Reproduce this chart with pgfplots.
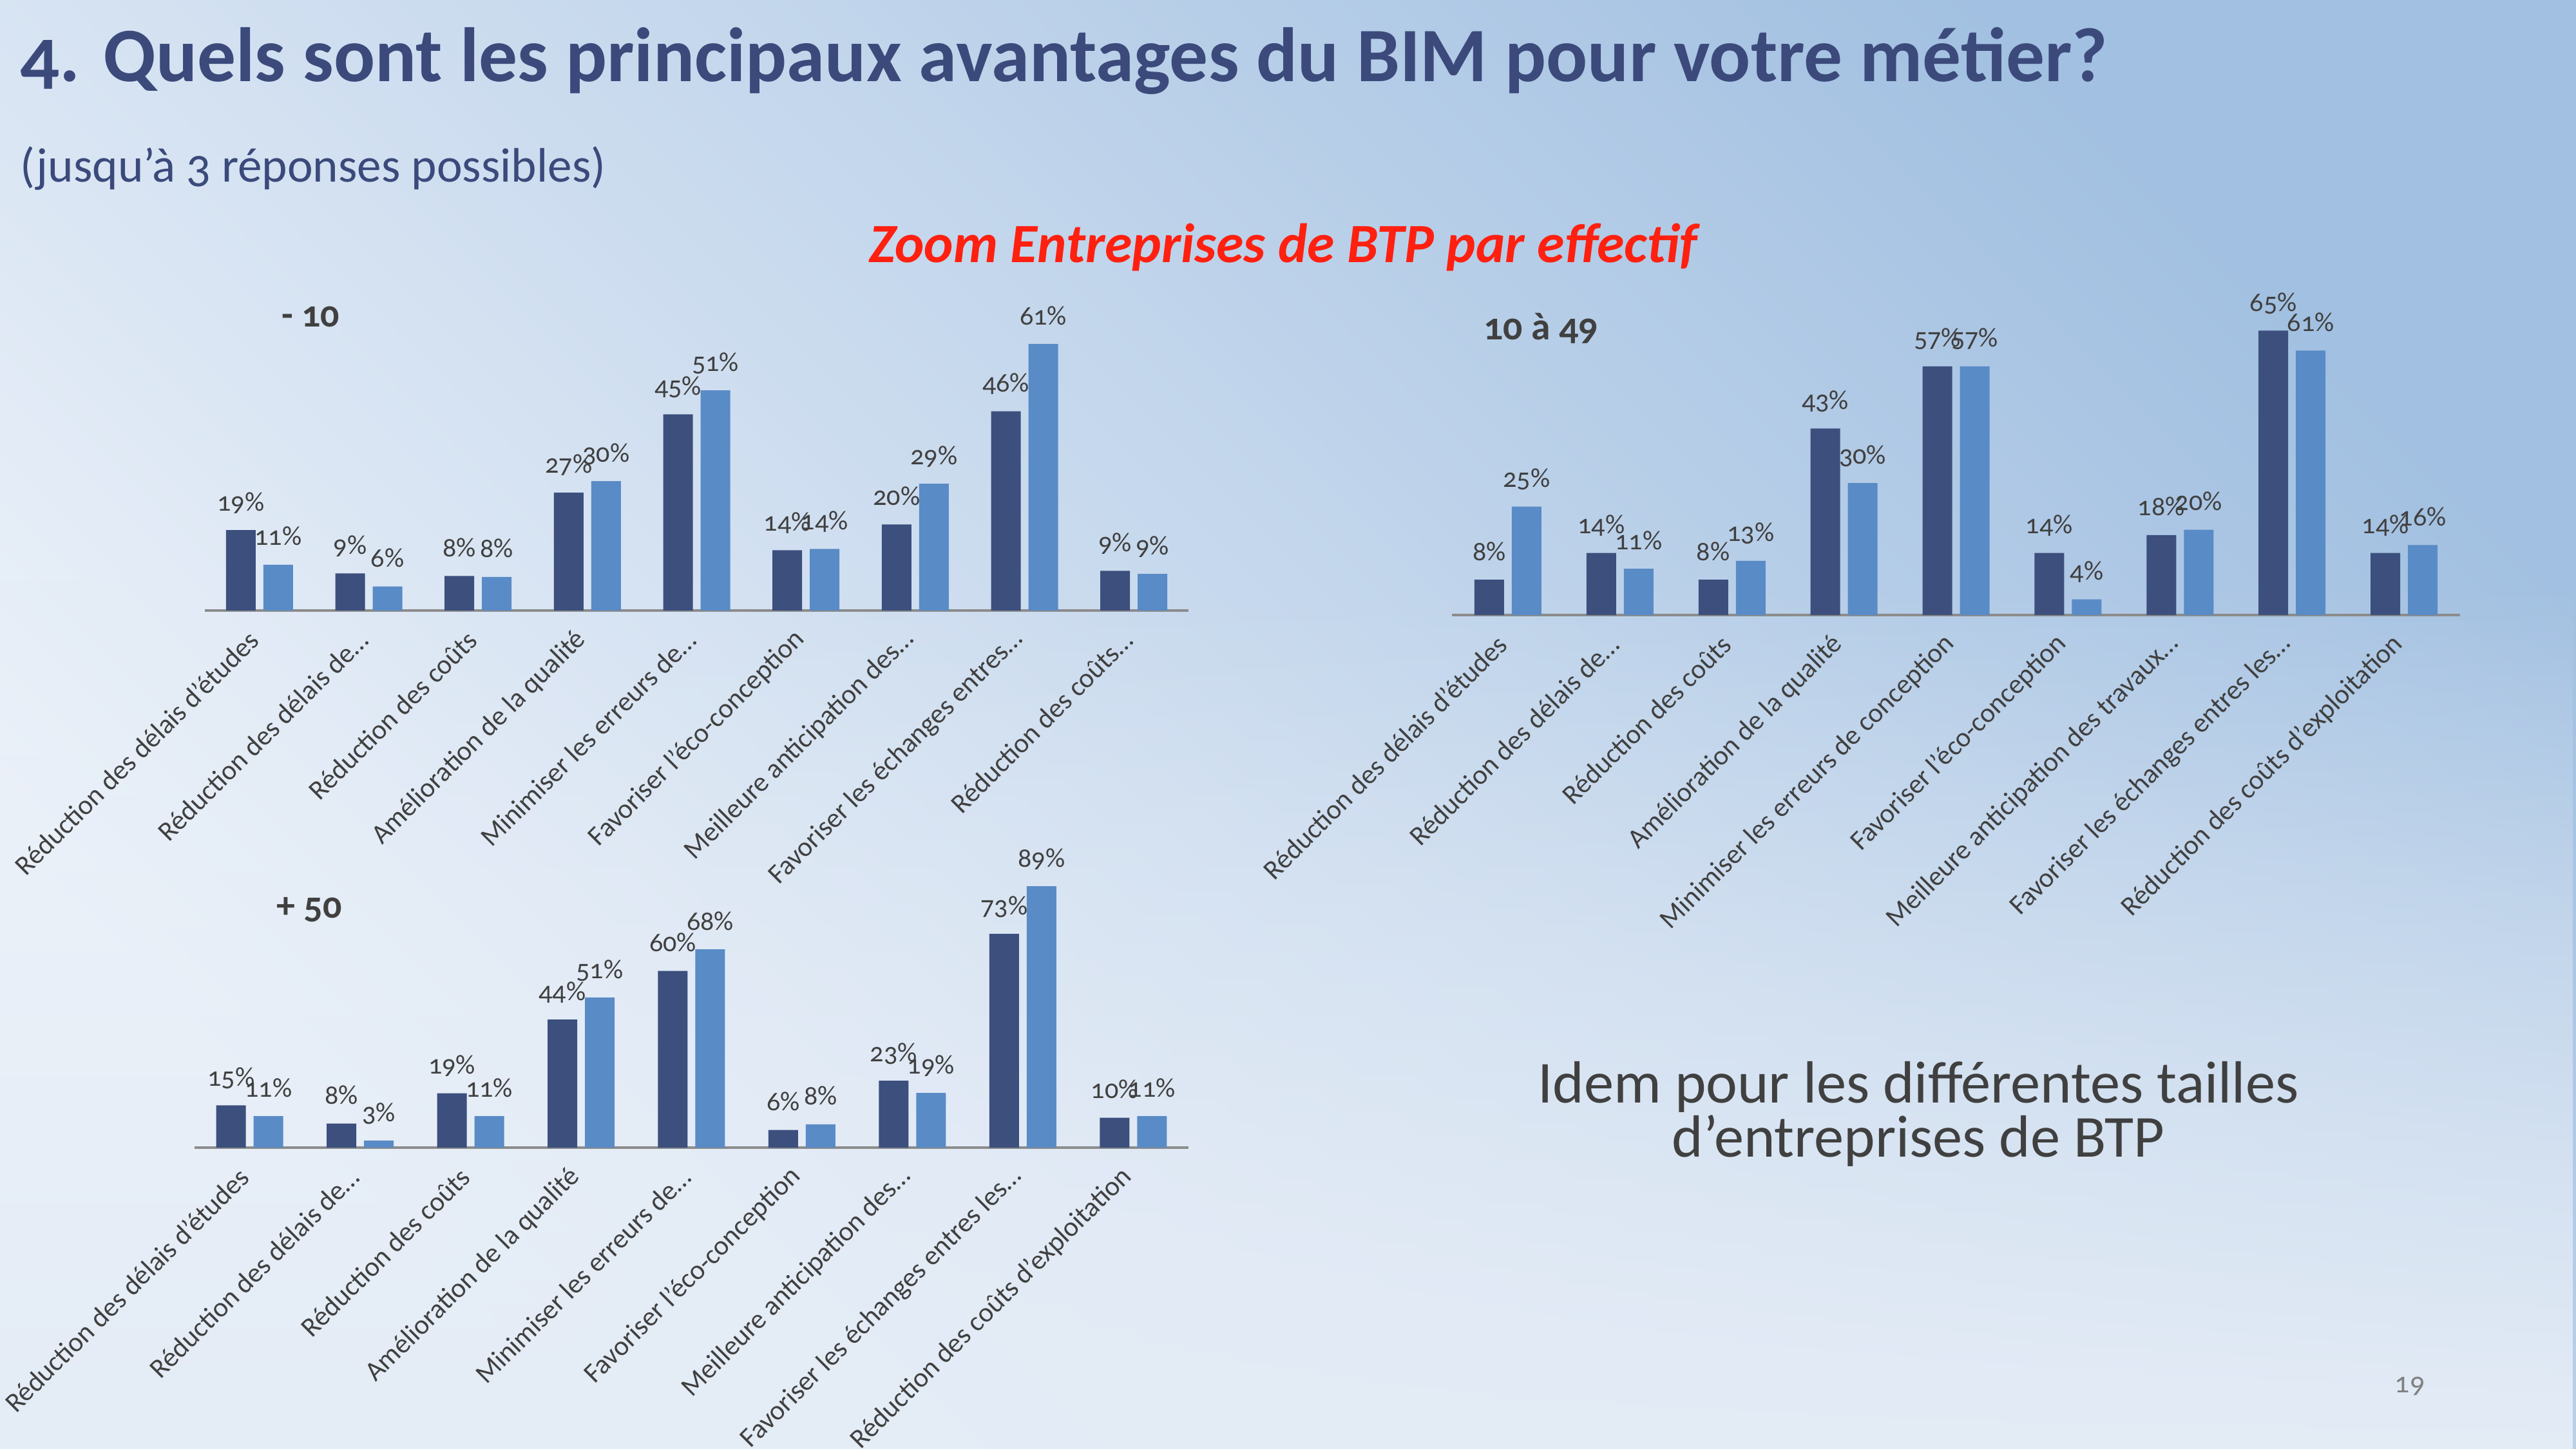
\documentclass[border=0pt]{standalone}
\usepackage{fontspec}
\setmainfont{Carlito}[Numbers=OldStyle]
\usepackage{pgfplots}
\pgfplotsset{compat=1.18}
\usetikzlibrary{fadings}
\definecolor{titleblue}{RGB}{59,74,123}
\definecolor{darkbar}{RGB}{60,79,125}
\definecolor{lightbar}{RGB}{89,139,198}
\definecolor{labgray}{RGB}{64,64,64}
\definecolor{axisgray}{RGB}{140,140,140}
\definecolor{bglight}{RGB}{238,243,250}
\definecolor{bgbottom}{RGB}{228,236,246}
\definecolor{bgmid}{RGB}{220,230,243}
\definecolor{bgdark}{RGB}{162,192,225}
\definecolor{zoomred}{RGB}{255,32,16}

% positions en cm : x = px/100, y = -py/100 (origine en haut a gauche)
\pgfplotsset{
  bimbar/.style={
    scale only axis, ybar=0.12cm, bar width=0.46cm,
    xmin=-0.5, xmax=8.5, ymin=0,
    axis x line*=bottom, axis y line=none,
    x axis line style={draw=axisgray, line width=1.2pt, -},
    xtick={0,...,8}, major tick length=0pt,
    xticklabel style={rotate=45, anchor=east, font=\fontsize{12.2}{13}\selectfont, text=labgray},
    xticklabel shift=0.3cm,
    point meta=explicit symbolic,
    nodes near coords,
    every node near coord/.append style={font=\fontsize{12}{12}\selectfont, text=labgray, anchor=base, yshift=0.3cm},
    clip=false,
  },
}

\begin{document}
\begin{tikzpicture}
\useasboundingbox (0,0) rectangle (39.99,-22.5);
\clip (0,0) rectangle (39.99,-22.5);
\shade[top color=bgdark, middle color=bgmid, bottom color=bglight, shading angle=-45] (0,0) rectangle (39.99,-22.5);
\fill[bgbottom, path fading=north] (0,-9) rectangle (39.99,-22.5);

% titres
\node[anchor=base west, inner sep=0pt, font=\bfseries\fontsize{34}{34}\selectfont, text=titleblue] at (0.31,-1.27)
  {4. Quels sont les principaux avantages du BIM pour votre métier?};
\node[anchor=base west, inner sep=0pt, font=\fontsize{21.4}{21.4}\selectfont, text=titleblue] at (0.31,-2.83)
  {(jusqu’à 3 réponses possibles)};
\node[anchor=base, font=\bfseries\itshape\fontsize{24.5}{24.5}\selectfont, text=zoomred] at (19.92,-4.08)
  {Zoom Entreprises de BTP par effectif};

% - 10
\begin{axis}[bimbar, at={(3.18cm,-9.48cm)}, anchor=south west, width=15.27cm, height=4.75cm, ymax=70,
  xticklabels={Réduction des délais d'études, Réduction des délais de…, Réduction des coûts,
    Amélioration de la qualité, Minimiser les erreurs de…, Favoriser l'éco-conception,
    Meilleure anticipation des…, Favoriser les échanges entres…, Réduction des coûts…}]
\addplot[fill=darkbar, draw=none] coordinates {
  (0,18.4) [19\%] (1,8.5) [9\%] (2,7.9) [8\%] (3,27.0) [27\%] (4,44.9) [45\%]
  (5,13.8) [14\%] (6,19.7) [20\%] (7,45.6) [46\%] (8,9.1) [9\%]};
\addplot[fill=lightbar, draw=none] coordinates {
  (0,10.5) [11\%] (1,5.5) [6\%] (2,7.7) [8\%] (3,29.6) [30\%] (4,50.4) [51\%]
  (5,14.1) [14\%] (6,29.0) [29\%] (7,61.0) [61\%] (8,8.4) [9\%]};
\end{axis}

% 10 a 49
\begin{axis}[bimbar, at={(22.54cm,-9.55cm)}, anchor=south west, width=15.65cm, height=4.75cm, ymax=70,
  xticklabels={Réduction des délais d'études, Réduction des délais de…, Réduction des coûts,
    Amélioration de la qualité, Minimiser les erreurs de conception, Favoriser l'éco-conception,
    Meilleure anticipation des travaux…, Favoriser les échanges entres les…, Réduction des coûts d'exploitation}]
\addplot[fill=darkbar, draw=none] coordinates {
  (0,8.1) [8\%] (1,14.2) [14\%] (2,8.1) [8\%] (3,42.7) [43\%] (4,56.9) [57\%]
  (5,14.2) [14\%] (6,18.3) [18\%] (7,65.1) [65\%] (8,14.2) [14\%]};
\addplot[fill=lightbar, draw=none] coordinates {
  (0,24.8) [25\%] (1,10.6) [11\%] (2,12.4) [13\%] (3,30.2) [30\%] (4,56.9) [57\%]
  (5,3.6) [4\%] (6,19.5) [20\%] (7,60.5) [61\%] (8,16.0) [16\%]};
\end{axis}

% + 50
\begin{axis}[bimbar, at={(3.02cm,-17.82cm)}, anchor=south west, width=15.43cm, height=4.56cm, ymax=100,
  xticklabels={Réduction des délais d'études, Réduction des délais de…, Réduction des coûts,
    Amélioration de la qualité, Minimiser les erreurs de…, Favoriser l'éco-conception,
    Meilleure anticipation des…, Favoriser les échanges entres les…, Réduction des coûts d'exploitation}]
\addplot[fill=darkbar, draw=none] coordinates {
  (0,14.4) [15\%] (1,8.2) [8\%] (2,18.5) [19\%] (3,43.6) [44\%] (4,60.2) [60\%]
  (5,6.0) [6\%] (6,22.8) [23\%] (7,72.8) [73\%] (8,10.2) [10\%]};
\addplot[fill=lightbar, draw=none] coordinates {
  (0,10.7) [11\%] (1,2.4) [3\%] (2,10.7) [11\%] (3,51.1) [51\%] (4,67.5) [68\%]
  (5,7.9) [8\%] (6,18.6) [19\%] (7,89.0) [89\%] (8,10.7) [11\%]};
\end{axis}

% etiquettes de groupes
\node[font=\bfseries\fontsize{16.5}{16.5}\selectfont, text=labgray] at (4.82,-4.92) {- 10};
\node[font=\bfseries\fontsize{17}{17}\selectfont, text=labgray] at (23.92,-5.10) {10 à 49};
\node[font=\bfseries\fontsize{16.5}{16.5}\selectfont, text=labgray] at (4.80,-14.13) {+ 50};

\node[align=center, font=\fontsize{26.3}{24}\selectfont, text=labgray] at (29.78,-17.30)
  {Idem pour les différentes tailles\\d’entreprises de BTP};
\node[font=\fontsize{13}{13}\selectfont, text=gray] at (37.41,-21.52) {19};
\end{tikzpicture}
\end{document}
